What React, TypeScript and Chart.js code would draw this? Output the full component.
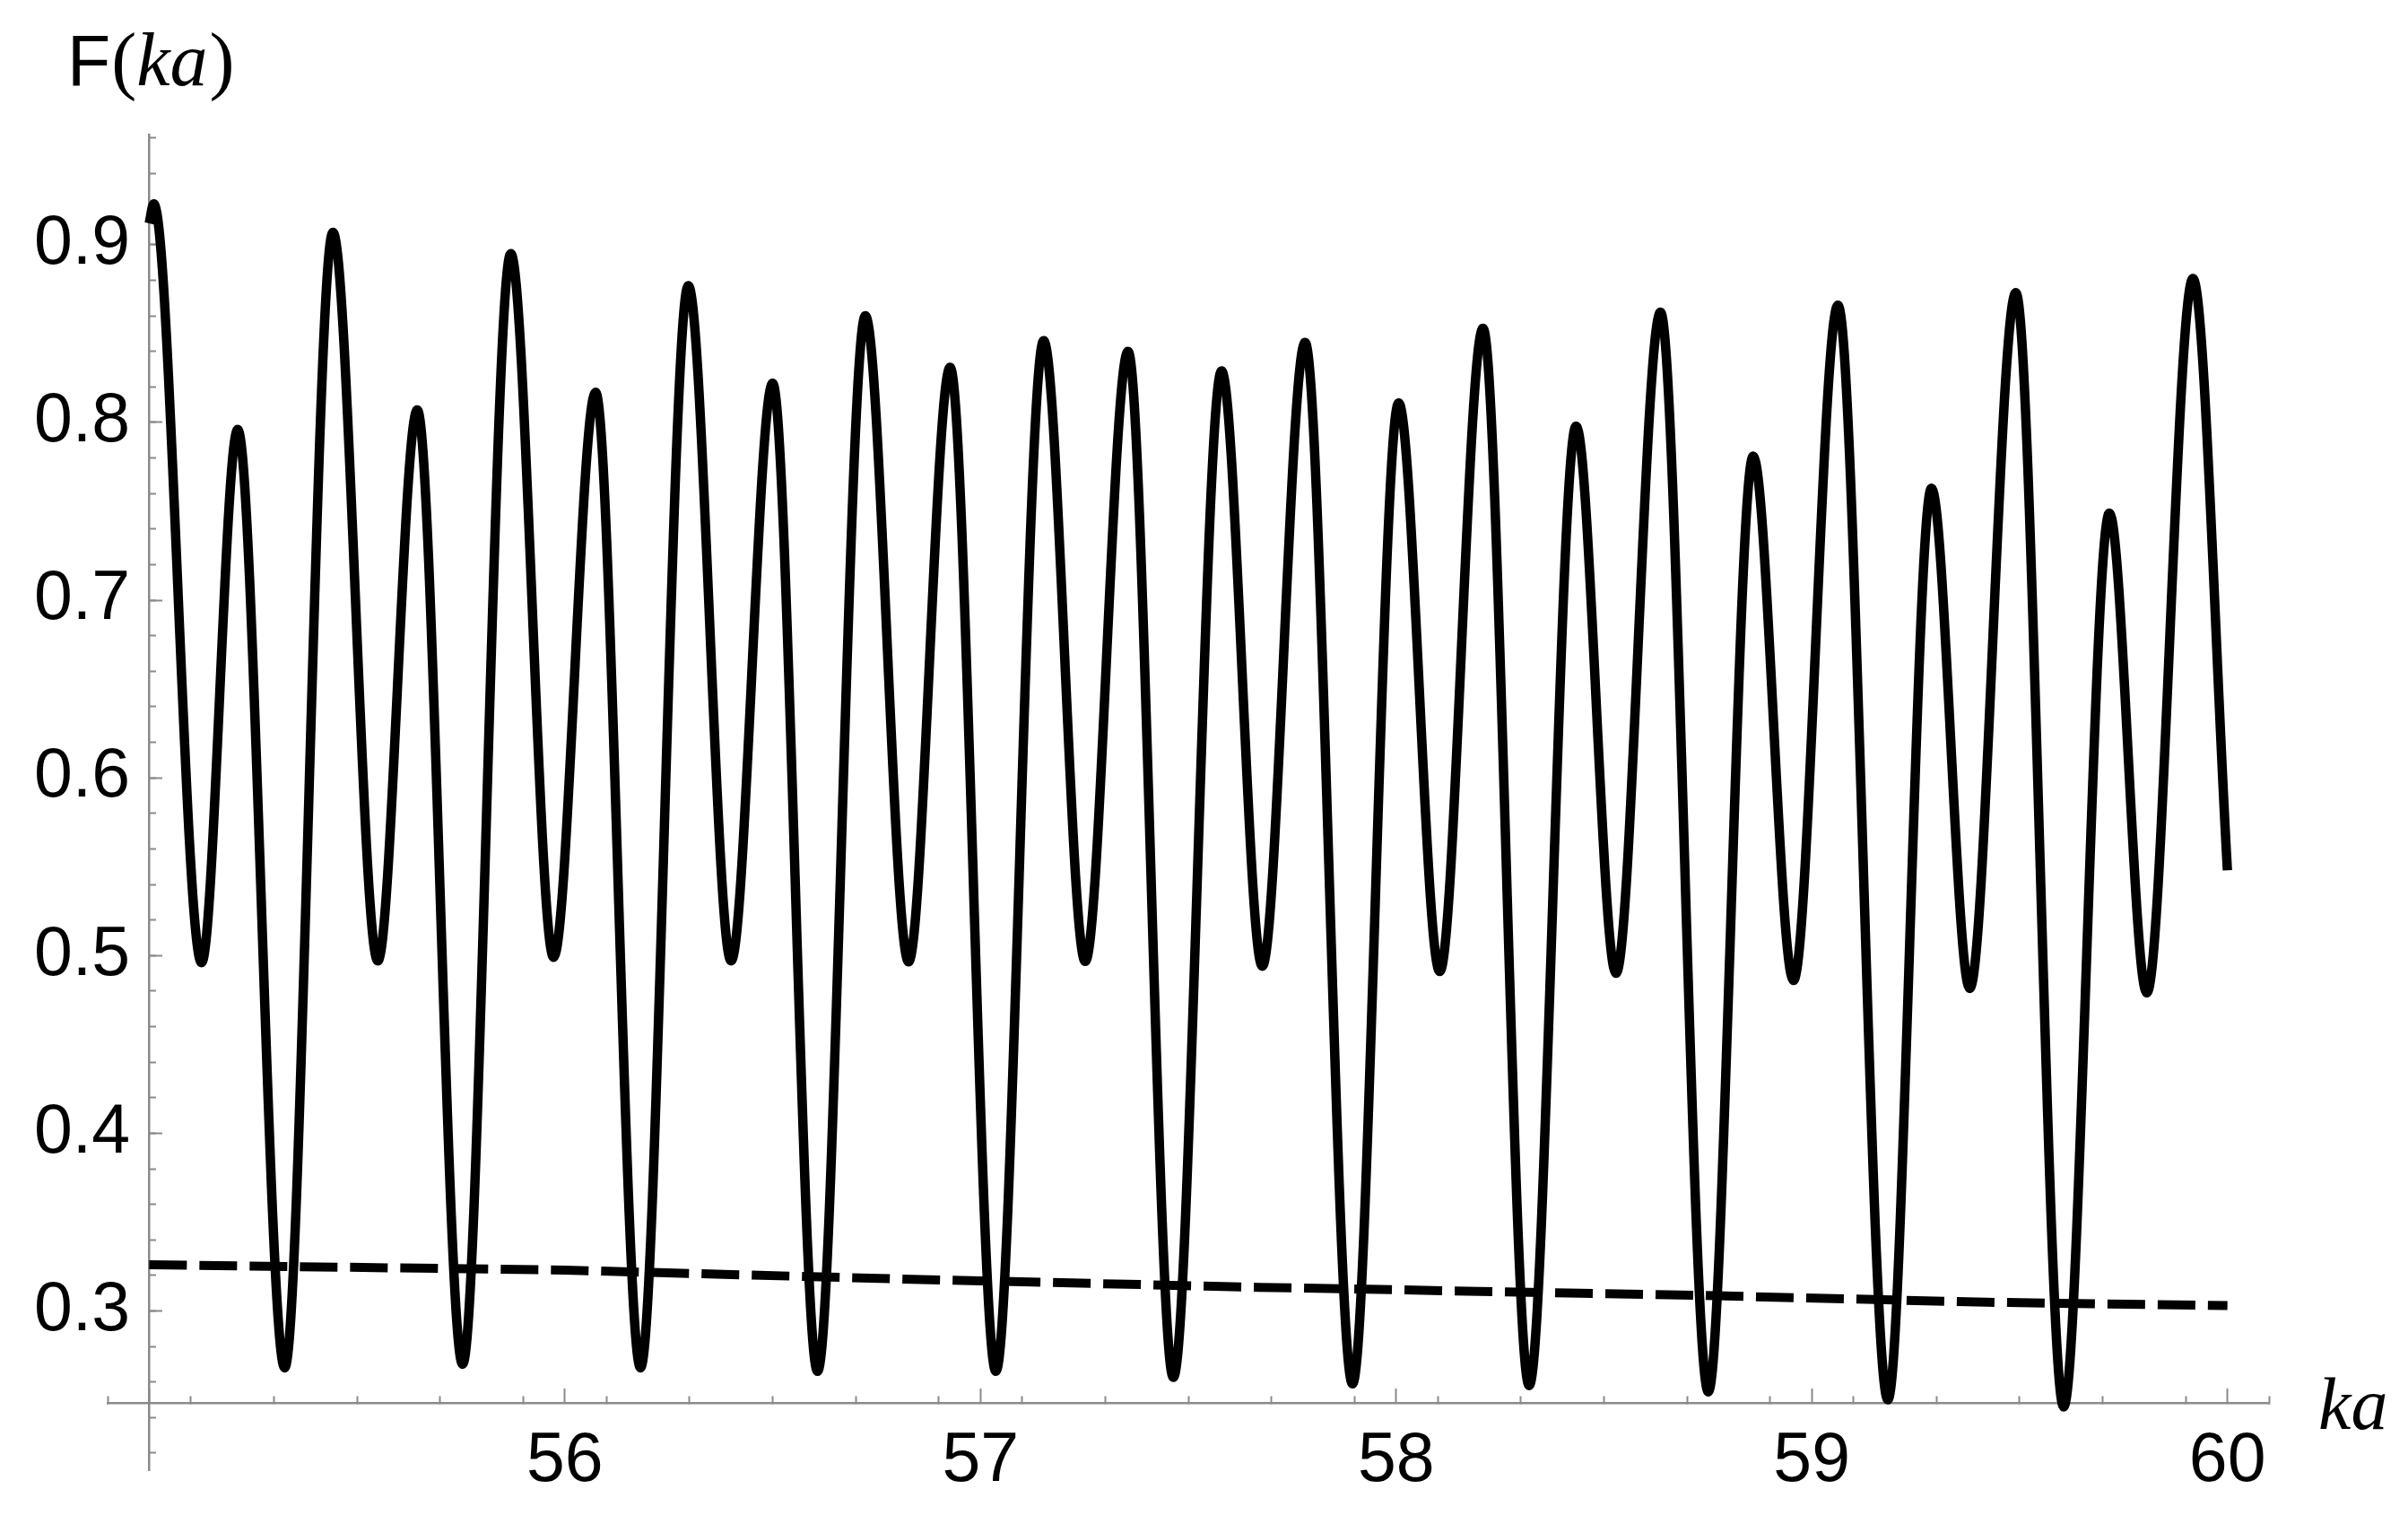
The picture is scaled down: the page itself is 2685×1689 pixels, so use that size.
import React, { useEffect, useRef } from 'react';
import { Chart, registerables } from 'chart.js';

Chart.register(...registerables);

const W = 2685;
const H = 1689;

// F(ka): turning points of the solid curve
const curveKa = [
  55.0, 55.011, 55.126, 55.213, 55.326, 55.442, 55.55, 55.645, 55.754, 55.87,
  55.973, 56.074, 56.182, 56.297, 56.4, 56.5, 56.608, 56.723, 56.827, 56.927,
  57.037, 57.152, 57.252, 57.355, 57.464, 57.58, 57.678, 57.781, 57.895, 58.006,
  58.105, 58.209, 58.32, 58.433, 58.529, 58.636, 58.751, 58.859, 58.956, 59.063,
  59.183, 59.288, 59.38, 59.491, 59.606, 59.716, 59.806, 59.917, 60.0,
];
const curveF = [
  0.912, 0.923, 0.496, 0.796, 0.268, 0.907, 0.497, 0.807, 0.27, 0.895,
  0.499, 0.817, 0.268, 0.877, 0.497, 0.822, 0.266, 0.86, 0.4965, 0.831,
  0.266, 0.846, 0.4967, 0.84, 0.2626, 0.829, 0.494, 0.845, 0.259, 0.811,
  0.491, 0.853, 0.258, 0.798, 0.49, 0.862, 0.2545, 0.781, 0.486, 0.866,
  0.25, 0.763, 0.4815, 0.873, 0.246, 0.749, 0.479, 0.881, 0.548,
];

// dashed curve (slowly decreasing mean level)
const meanKa = [55.0, 56.0, 56.8, 57.67, 58.72, 59.42, 60.0];
const meanF = [0.326, 0.323, 0.318, 0.3133, 0.3088, 0.3049, 0.303];

// axes
const X_MIN = 54.9;
const X_MAX = 60.1;
const Y_MIN = 0.21;
const Y_MAX = 0.962;
const X_ORIGIN = 55; // where the vertical axis sits
const Y_ORIGIN = 0.248; // where the horizontal axis sits

const AXIS_GREY = '#8a8a8a';
const TICK_FONT = { family: '"Liberation Sans", Arial, sans-serif', size: 77 };

const axisTitles = {
  id: 'axisTitles',
  afterDraw(chart: any) {
    const { ctx, chartArea, scales } = chart;
    const axisY = scales.y.getPixelForValue(Y_ORIGIN);
    ctx.save();
    ctx.fillStyle = '#000';
    ctx.textAlign = 'left';
    ctx.textBaseline = 'alphabetic';

    // F(ka) above the vertical axis
    const base = chartArea.top - 55;
    let x = 75;
    ctx.font = '79px "Liberation Sans"';
    ctx.fillText('F', x, base);
    x += ctx.measureText('F').width + 1;
    ctx.font = '84px "Liberation Serif"';
    ctx.fillText('(', x, base);
    x += ctx.measureText('(').width;
    ctx.font = 'italic 84px "Liberation Serif"';
    ctx.fillText('ka', x, base);
    x += ctx.measureText('ka').width + 2;
    ctx.font = '84px "Liberation Serif"';
    ctx.fillText(')', x, base);

    // ka at the right end of the horizontal axis
    ctx.font = 'italic 82px "Liberation Serif"';
    ctx.fillText('ka', chartArea.right + 55, axisY + 28);
    ctx.restore();
  },
};

const tickGrid = (len: number) => ({
  display: true,
  drawOnChartArea: false,
  drawTicks: true,
  tickLength: len,
  tickColor: AXIS_GREY,
  tickWidth: 2,
});

export default function App() {
  const canvasRef = useRef<HTMLCanvasElement>(null);

  useEffect(() => {
    if (!canvasRef.current) return;
    const chart = new Chart(canvasRef.current, {
      type: 'line',
      data: {
        datasets: [
          {
            label: 'F(ka)',
            data: curveKa.map((x, i) => ({ x, y: curveF[i] })),
            borderColor: '#000',
            borderWidth: 10.5,
            pointRadius: 0,
            cubicInterpolationMode: 'monotone',
            borderJoinStyle: 'round',
            fill: false,
            clip: false,
          },
          {
            label: 'mean',
            data: meanKa.map((x, i) => ({ x, y: meanF[i] })),
            borderColor: '#000',
            borderWidth: 10,
            borderDash: [42, 14],
            borderCapStyle: 'butt',
            pointRadius: 0,
            tension: 0,
            fill: false,
            clip: false,
          },
        ],
      },
      options: {
        animation: false,
        responsive: false,
        devicePixelRatio: 1,
        layout: { padding: { left: 120, right: W - 2530, top: 150, bottom: H - 1645 } },
        plugins: {
          legend: { display: false },
          tooltip: { enabled: false },
        },
        scales: {
          x: {
            type: 'linear',
            min: X_MIN,
            max: X_MAX,
            position: { y: Y_ORIGIN },
            grid: tickGrid(-9),
            border: { display: true, color: AXIS_GREY, width: 2.5 },
            ticks: { stepSize: 0.2, display: false, includeBounds: false },
          },
          x2: {
            type: 'linear',
            axis: 'x',
            min: X_MIN,
            max: X_MAX,
            position: { y: Y_ORIGIN },
            grid: tickGrid(-17),
            border: { display: false },
            ticks: {
              stepSize: 1,
              includeBounds: false,
              autoSkip: false,
              maxRotation: 0,
              padding: 36,
              color: '#000',
              font: TICK_FONT,
              callback: (v: any) => (Math.abs(v - X_ORIGIN) < 1e-6 ? '' : String(Math.round(v))),
            },
          },
          y: {
            type: 'linear',
            min: Y_MIN,
            max: Y_MAX,
            position: { x: X_ORIGIN },
            grid: tickGrid(-9),
            border: { display: true, color: AXIS_GREY, width: 2.5 },
            ticks: { stepSize: 0.02, display: false, includeBounds: false },
          },
          y2: {
            type: 'linear',
            axis: 'y',
            min: Y_MIN,
            max: Y_MAX,
            position: { x: X_ORIGIN },
            grid: tickGrid(-15),
            border: { display: false },
            ticks: {
              stepSize: 0.1,
              includeBounds: false,
              autoSkip: false,
              color: '#000',
              font: TICK_FONT,
              callback: (v: any) => Number(v).toFixed(1) + ' ',
            },
          },
        },
      } as any,
      plugins: [axisTitles],
    });
    return () => chart.destroy();
  }, []);

  return (
    <div style={{ position: 'fixed', left: 0, top: 0, width: W, height: H, background: '#fff' }}>
      <canvas ref={canvasRef} width={W} height={H} style={{ width: W, height: H, display: 'block' }} />
    </div>
  );
}
